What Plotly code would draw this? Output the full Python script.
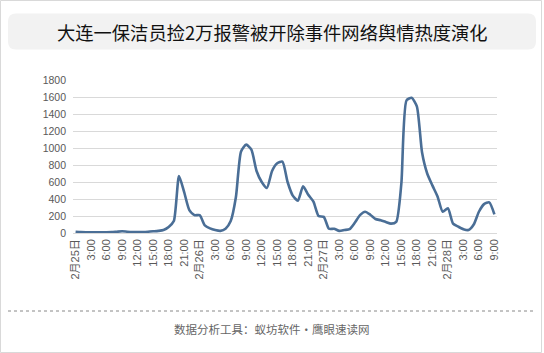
import plotly.graph_objects as go

# hourly heat values, 2/25 0:00 .. 2/28 9:00
hours = list(range(82))
heat = [15, 10, 8, 8, 8, 8, 8, 10, 15, 20, 15, 12, 12, 12, 15, 20, 25, 35, 70, 140, 670, 480, 270, 210,
        210, 90, 55, 35, 25, 50, 140, 420, 960, 1040, 980, 730, 600, 530, 730, 820, 840, 600, 440, 380, 550, 450, 370, 200,
        190, 50, 50, 25, 35, 45, 120, 210, 250, 215, 165, 150, 130, 110, 130, 580, 1560, 1590, 1490, 950, 700, 560, 430, 250,
        290, 110, 75, 45, 35, 100, 250, 340, 360, 220]

tick_vals = list(range(0, 82, 3))
tick_text = []
for h in tick_vals:
    d, hh = divmod(h, 24)
    tick_text.append(f"2月{25 + d}日" if hh == 0 else f"{hh}:00")

title_text = "大连一保洁员捡2万报警被开除事件网络舆情热度演化"
footer_text = "数据分析工具：蚁坊软件·鹰眼速读网"

W, H = 544, 353
L, R, T, B = 73, 47, 80, 120
pw, ph = W - L - R, H - T - B

def px(x):
    return (x - L) / pw

def py(y):
    return (H - B - y) / ph

fig = go.Figure()
fig.add_trace(go.Scatter(x=hours, y=heat, mode="lines",
                         line=dict(color="#4a6e96", width=2.6, shape="spline", smoothing=0.6),
                         hoverinfo="skip"))

rr = "M -256,-18 L 256,-18 Q 264,-18 264,-10 L 264,10 Q 264,18 256,18 L -256,18 Q -264,18 -264,10 L -264,-10 Q -264,-18 -256,-18 Z"
shapes = [
    dict(type="rect", xref="paper", yref="paper", x0=px(0.5), x1=px(541.5), y0=py(352.5), y1=py(0.5),
         line=dict(color="#d9d9d9", width=1), fillcolor="rgba(0,0,0,0)", layer="below"),
    dict(type="path", xref="paper", yref="paper", xsizemode="pixel", ysizemode="pixel",
         xanchor=px(272), yanchor=py(31.5), path=rr, fillcolor="#f2f2f2", line=dict(width=0), layer="below"),
    dict(type="line", xref="paper", yref="paper", x0=px(8), x1=px(536), y0=py(311), y1=py(311),
         line=dict(color="#888888", width=1, dash="dot")),
]

fig.update_layout(
    width=W, height=H, margin=dict(l=L, r=R, t=T, b=B),
    paper_bgcolor="white", plot_bgcolor="white", showlegend=False,
    shapes=shapes,
    annotations=[
        dict(text=title_text, xref="paper", yref="paper", x=px(272), y=py(31.5), showarrow=False,
             font=dict(family="Noto Sans CJK SC", size=18.3, color="#111111"), xanchor="center", yanchor="middle"),
        dict(text=footer_text, xref="paper", yref="paper", x=px(272), y=py(329), showarrow=False,
             font=dict(family="Noto Sans CJK SC", size=11.5, color="#666666"), xanchor="center", yanchor="middle"),
    ],
    xaxis=dict(range=[-0.5, 81.5], tickvals=tick_vals, ticktext=tick_text, tickangle=-90,
               showgrid=False, zeroline=False, showline=False, ticks="", ticklen=0, ticklabelstandoff=3,
               tickfont=dict(family="Liberation Sans, Noto Sans CJK SC", size=11, color="#595959")),
    yaxis=dict(range=[0, 1800], dtick=200, showgrid=True, gridcolor="#d9d9d9", gridwidth=1,
               zeroline=True, zerolinecolor="#d9d9d9", zerolinewidth=1, showline=False, ticks="",
               ticklabelstandoff=6,
               tickfont=dict(family="Liberation Sans", size=10.5, color="#595959")),
)

fig.write_html("out.html")
